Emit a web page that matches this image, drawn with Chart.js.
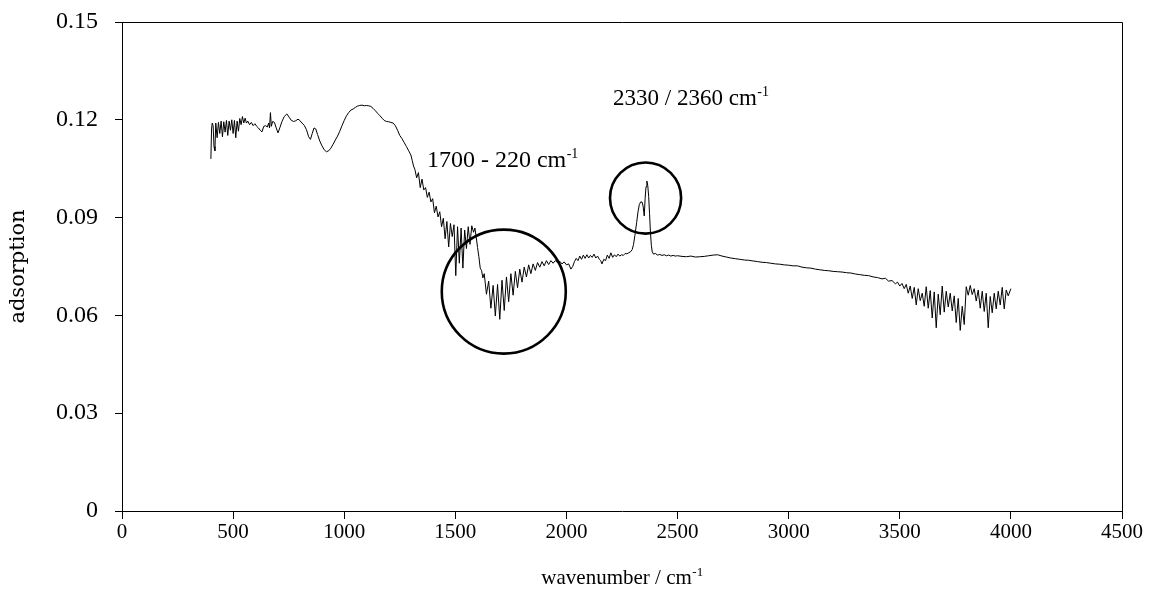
<!DOCTYPE html>
<html>
<head>
<meta charset="utf-8">
<script src="https://cdn.jsdelivr.net/npm/chart.js@4.4.1/dist/chart.umd.min.js"></script>
<style>
html,body{margin:0;padding:0;background:#fff;}
#wrap{width:1150px;height:589px;position:relative;}
</style>
</head>
<body>
<div id="wrap"><canvas id="c" width="1150" height="589"></canvas></div>
<script>
// ---- data ----
const wavenumber = [
400,403,406,410,414,418,422,428,434,440,446,452,458,464,470,476,482,488,494,500,506,512,518,524,530,536,542,548,554,560,566,574,582,590,598,606,614,622,630,638,646,654,660,664,668,672,678,686,694,702,710,720,730,742,752,762,772,782,792,800,810,820,830,840,848,856,864,872,880,890,900,910,920,930,940,950,960,970,980,990,1000,1010,1020,1030,1040,1050,1060,1070,1080,1090,1100,1110,1120,1130,1140,1150,1160,1170,1180,1190,1200,1210,1220,1230,1240,1250,1260,1270,1280,1290,1300,1306,1312,1318,1326,1334,1342,1350,1358,1366,1374,1382,1390,1398,1406,1414,1422,1430,1438,1446,1454,1462,1470,1478,1486,1494,1502,1510,1518,1526,1534,1542,1550,1558,1566,1574,1582,1588,1594,1600,1606,1612,1618,1624,1630,1640,1650,1660,1670,1680,1690,1700,1710,1720,1730,1740,1750,1760,1770,1780,1790,1800,1810,1820,1830,1840,1850,1860,1870,1880,1890,1900,1910,1920,1930,1940,1950,1960,1970,1980,1990,2000,2010,2020,2028,2036,2044,2052,2060,2068,2076,2084,2092,2100,2108,2116,2124,2132,2140,2148,2154,2160,2168,2176,2184,2192,2200,2208,2216,2224,2232,2240,2248,2256,2264,2272,2280,2288,2296,2302,2308,2316,2322,2328,2334,2340,2345,2350,2354,2358,2362,2366,2370,2374,2378,2382,2386,2392,2400,2410,2420,2430,2440,2450,2460,2470,2480,2490,2500,2520,2540,2560,2580,2600,2620,2640,2660,2680,2700,2720,2740,2760,2780,2800,2820,2840,2860,2880,2900,2920,2940,2960,2980,3000,3020,3040,3060,3080,3100,3120,3140,3160,3180,3200,3220,3240,3260,3280,3300,3320,3340,3360,3380,3400,3420,3435,3450,3465,3480,3490,3500,3510,3520,3529,3538,3547,3556,3565,3574,3583,3592,3601,3610,3619,3628,3637,3646,3655,3664,3673,3682,3691,3700,3709,3718,3727,3736,3745,3754,3763,3772,3781,3790,3799,3808,3817,3826,3835,3844,3853,3862,3871,3880,3889,3898,3907,3916,3925,3934,3943,3952,3961,3970,3979,3988,4000
];
const adsorption = [
0.108,0.1172,0.119,0.1182,0.1118,0.1105,0.119,0.1145,0.1192,0.1158,0.1196,0.1148,0.1194,0.1162,0.1198,0.1152,0.1196,0.1168,0.12,0.1158,0.1198,0.1145,0.1196,0.1165,0.1204,0.1185,0.121,0.119,0.1205,0.119,0.1196,0.1185,0.1192,0.1182,0.1188,0.118,0.1175,0.1168,0.1163,0.118,0.1182,0.1178,0.119,0.1175,0.1222,0.118,0.1195,0.1192,0.1175,0.116,0.1175,0.1195,0.121,0.1218,0.1208,0.1198,0.1195,0.1197,0.1202,0.1198,0.119,0.1183,0.117,0.1148,0.114,0.1158,0.1175,0.1172,0.1155,0.1135,0.112,0.1108,0.1102,0.1105,0.1113,0.1125,0.1138,0.115,0.1165,0.1182,0.1198,0.1212,0.1222,0.123,0.1233,0.1238,0.1242,0.1244,0.1245,0.1243,0.1244,0.1243,0.1241,0.1235,0.1228,0.122,0.1213,0.1205,0.1198,0.1195,0.1194,0.1192,0.119,0.1182,0.1168,0.1152,0.1142,0.113,0.1118,0.1105,0.1092,0.1075,0.1058,0.1048,0.1022,0.1038,0.0992,0.1018,0.0985,0.0992,0.0962,0.0978,0.0948,0.0958,0.0915,0.0935,0.0902,0.0918,0.0872,0.0898,0.0835,0.0888,0.081,0.0882,0.0842,0.0878,0.0722,0.0872,0.076,0.0868,0.0745,0.0862,0.0805,0.0872,0.0818,0.0875,0.0855,0.0868,0.084,0.0808,0.078,0.0745,0.0738,0.0715,0.0728,0.0665,0.0705,0.0622,0.0692,0.0598,0.0695,0.0588,0.0708,0.0615,0.0718,0.0642,0.0728,0.0662,0.0735,0.0685,0.0742,0.0702,0.0748,0.0718,0.0755,0.0728,0.0758,0.0738,0.0762,0.0748,0.0765,0.0752,0.0768,0.0756,0.0768,0.076,0.0768,0.0762,0.0766,0.0758,0.0764,0.0755,0.0758,0.0742,0.075,0.0765,0.0775,0.0768,0.0782,0.0772,0.0785,0.0775,0.0786,0.0776,0.0784,0.0778,0.0788,0.0776,0.0782,0.0772,0.0768,0.0758,0.0772,0.0768,0.0785,0.0775,0.0792,0.0778,0.0786,0.078,0.0788,0.0782,0.0786,0.0784,0.079,0.0789,0.0792,0.0795,0.0802,0.0818,0.0845,0.0885,0.0918,0.094,0.0948,0.0948,0.0935,0.0905,0.0958,0.0995,0.1012,0.0998,0.0965,0.0912,0.0855,0.0815,0.0795,0.0788,0.079,0.0785,0.0787,0.0784,0.0786,0.0783,0.0785,0.0782,0.0784,0.0782,0.0783,0.0781,0.078,0.0782,0.0779,0.078,0.0781,0.0783,0.0785,0.0786,0.0782,0.0779,0.0776,0.0774,0.0772,0.077,0.0769,0.0767,0.0765,0.0763,0.0762,0.076,0.0758,0.0757,0.0755,0.0754,0.0752,0.0752,0.0748,0.0746,0.0745,0.0742,0.074,0.0738,0.0737,0.0735,0.0734,0.0733,0.0731,0.073,0.0727,0.0725,0.0723,0.0722,0.0718,0.0716,0.0712,0.0714,0.0705,0.0707,0.0697,0.0702,0.069,0.0698,0.0682,0.0695,0.0668,0.069,0.0652,0.0686,0.0632,0.0682,0.0645,0.0668,0.0628,0.0688,0.0622,0.0676,0.0592,0.0672,0.0562,0.0665,0.0602,0.069,0.061,0.0674,0.0626,0.0668,0.0614,0.066,0.0578,0.0652,0.0554,0.0628,0.0572,0.0688,0.0662,0.0692,0.0664,0.0682,0.0644,0.0678,0.0622,0.0674,0.0612,0.0668,0.0562,0.0658,0.0608,0.0668,0.062,0.0674,0.0632,0.0686,0.062,0.0678,0.066,0.0682,0.0668,0.068,0.0672,0.0678,0.068
];
const xTickLabels = ['0','500','1000','1500','2000','2500','3000','3500','4000','4500'];
const yTickLabels = ['0','0.03','0.06','0.09','0.12','0.15'];
const xTitle = 'wavenumber / cm';
const yTitle = 'adsorption';
// annotation texts and circles (data units)
const notes = [
  {text:'1700 - 220 cm', sup:'-1', x:1372, y:0.1055},
  {text:'2330 / 2360 cm', sup:'-1', x:2210, y:0.1245}
];
const circles = [
  {x:1718, y:0.0673, r:279},
  {x:2356, y:0.0960, r:160}
];

const FONT = "'Liberation Serif', 'Times New Roman', serif";
const FS = 24;

const points = wavenumber.map((w,i)=>({x:w, y:adsorption[i]}));

function drawSup(ctx, text, sup, px, py, size){
  ctx.font = size + 'px ' + FONT;
  ctx.fillText(text, px, py);
  const w = ctx.measureText(text).width;
  ctx.font = Math.round(size*0.6) + 'px ' + FONT;
  ctx.fillText(sup, px + w + 0.5, py - size*0.38);
}

const framePlugin = {
  id:'frame',
  afterDatasetsDraw(chart){
    const {ctx, chartArea:a, scales:{x,y}} = chart;
    ctx.save();
    ctx.strokeStyle = '#000';
    ctx.lineWidth = 2.6;
    circles.forEach(c=>{
      const cx = x.getPixelForValue(c.x), cy = y.getPixelForValue(c.y);
      const r = x.getPixelForValue(c.r) - x.getPixelForValue(0);
      ctx.beginPath(); ctx.arc(cx, cy, r, 0, Math.PI*2); ctx.stroke();
    });
    ctx.fillStyle = '#000';
    ctx.textBaseline = 'alphabetic';
    ctx.textAlign = 'left';
    notes.forEach((n,i)=>{
      drawSup(ctx, n.text, n.sup, x.getPixelForValue(n.x), y.getPixelForValue(n.y), i===1 ? 23 : FS);
    });
    ctx.lineWidth = 1;
    ctx.beginPath();
    ctx.moveTo(a.left, a.top + 0.5); ctx.lineTo(a.right + 0.5, a.top + 0.5);
    ctx.lineTo(a.right + 0.5, a.bottom);
    ctx.stroke();
    ctx.restore();
  },
  afterDraw(chart){
    const {ctx, scales:{x}} = chart;
    ctx.save();
    ctx.fillStyle = '#000';
    ctx.textBaseline = 'alphabetic';
    ctx.textAlign = 'left';
    const size = 21;
    ctx.font = size + 'px ' + FONT;
    const w1 = ctx.measureText(xTitle).width;
    ctx.font = Math.round(size*0.6) + 'px ' + FONT;
    const w2 = ctx.measureText('-1').width;
    const cx = (x.left + x.right)/2;
    drawSup(ctx, xTitle, '-1', cx - (w1 + w2)/2, 584, size);
    ctx.restore();
  }
};

new Chart(document.getElementById('c'), {
  type:'line',
  data:{ datasets:[{ data: points, borderColor:'#000', borderWidth:1, pointRadius:0, tension:0, fill:false }] },
  options:{
    responsive:false, animation:false, devicePixelRatio:1,
    layout:{ padding:{ top:22, right:28, left:0, bottom:0 } },
    plugins:{ legend:{display:false}, tooltip:{enabled:false} },
    scales:{
      x:{
        type:'linear', min:0, max:4500,
        afterFit(s){ s.height = 78; s.paddingLeft = 0; s.paddingRight = 0; },
        afterBuildTicks(s){ s.ticks = xTickLabels.map(t=>({value:Number(t)})); },
        ticks:{ color:'#000', font:{family:FONT, size:21}, padding:1, maxRotation:0,
          callback:(v,i)=>xTickLabels[i] },
        grid:{ drawOnChartArea:false, color:'#000', tickLength:8, tickColor:'#000' },
        border:{ color:'#000', width:1 },
        title:{ display:false }
      },
      y:{
        type:'linear', min:0, max:0.15,
        afterFit(s){ s.width = 122; s.paddingTop = 0; s.paddingBottom = 0; },
        afterBuildTicks(s){ s.ticks = yTickLabels.map(t=>({value:Number(t)})); },
        ticks:{ color:'#000', font:{family:FONT, size:FS}, padding:17,
          callback:(v,i)=>yTickLabels[i] },
        grid:{ drawOnChartArea:false, color:'#000', tickLength:7, tickColor:'#000' },
        border:{ color:'#000', width:1 },
        title:{ display:true, text:yTitle, color:'#000', font:{family:"'DejaVu Serif', serif", size:21}, padding:{top:6,bottom:0} }
      }
    }
  },
  plugins:[framePlugin]
});
</script>
</body>
</html>
